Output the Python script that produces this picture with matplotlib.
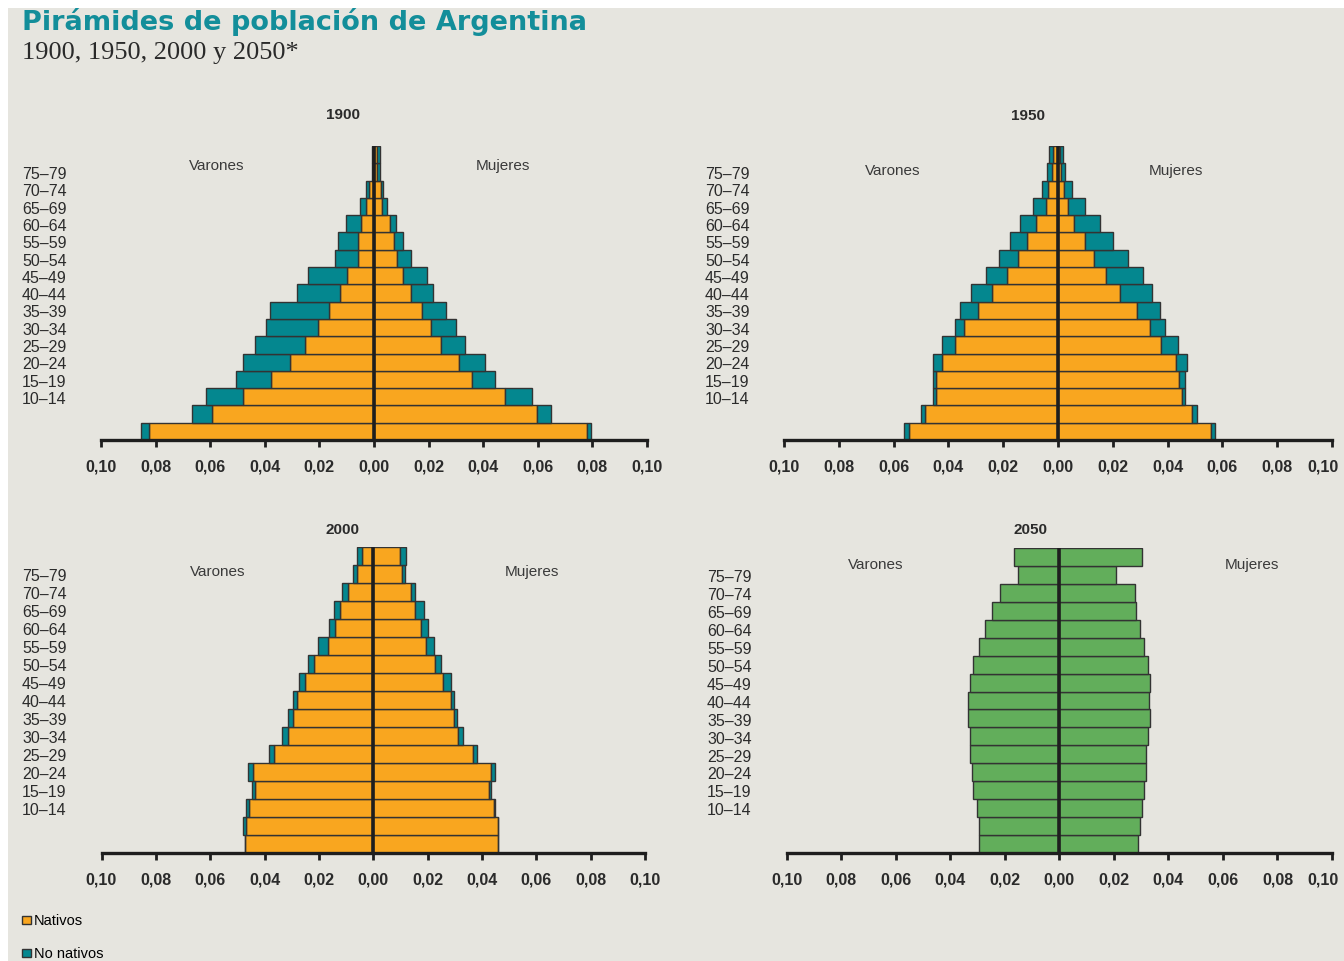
import matplotlib.pyplot as plt
from matplotlib.patches import Patch, Rectangle
from matplotlib.transforms import blended_transform_factory, ScaledTranslation
import numpy as np

# grupos de edad, de abajo (0-4) hacia arriba (80+)
grupos = ["0–4", "5–9", "10–14", "15–19", "20–24", "25–29", "30–34", "35–39",
          "40–44", "45–49", "50–54", "55–59", "60–64", "65–69", "70–74", "75–79", "80+"]
etiquetas = ["10–14", "15–19", "20–24", "25–29", "30–34", "35–39", "40–44",
             "45–49", "50–54", "55–59", "60–64", "65–69", "70–74", "75–79"]

# 1900
v1900_nat = [0.0824, 0.0592, 0.0479, 0.0376, 0.0308, 0.0254, 0.0205, 0.0165, 0.0125,
             0.0098, 0.0057, 0.0057, 0.0049, 0.0031, 0.0018, 0.0004, 0.0004]
v1900_nonat = [0.0031, 0.0076, 0.0135, 0.0128, 0.0171, 0.0183, 0.0192, 0.0217, 0.0156,
               0.0143, 0.0087, 0.0075, 0.0055, 0.0020, 0.0013, 0.0005, 0.0005]
m1900_nat = [0.0781, 0.0596, 0.0480, 0.0358, 0.0311, 0.0244, 0.0210, 0.0175, 0.0134,
             0.0107, 0.0085, 0.0073, 0.0059, 0.0031, 0.0025, 0.0012, 0.0012]
m1900_nonat = [0.0015, 0.0051, 0.0098, 0.0084, 0.0096, 0.0088, 0.0089, 0.0090, 0.0082,
               0.0088, 0.0049, 0.0034, 0.0023, 0.0015, 0.0009, 0.0010, 0.0010]

# 1950
v1950_nat = [0.0545, 0.0484, 0.0444, 0.0444, 0.0423, 0.0375, 0.0342, 0.0293, 0.0241,
             0.0186, 0.0146, 0.0113, 0.0079, 0.0044, 0.0036, 0.0022, 0.0019]
v1950_nonat = [0.0016, 0.0016, 0.0013, 0.0013, 0.0034, 0.0048, 0.0035, 0.0063, 0.0075,
               0.0076, 0.0071, 0.0061, 0.0061, 0.0048, 0.0022, 0.0018, 0.0015]
m1950_nat = [0.0560, 0.0490, 0.0451, 0.0442, 0.0429, 0.0377, 0.0336, 0.0290, 0.0226,
             0.0174, 0.0131, 0.0099, 0.0058, 0.0038, 0.0022, 0.0010, 0.0008]
m1950_nonat = [0.0013, 0.0016, 0.0011, 0.0021, 0.0043, 0.0061, 0.0054, 0.0081, 0.0116,
               0.0136, 0.0124, 0.0102, 0.0095, 0.0061, 0.0030, 0.0014, 0.0012]

# 2000
v2000_nat = [0.0471, 0.0470, 0.0457, 0.0436, 0.0443, 0.0367, 0.0313, 0.0294, 0.0279,
             0.0251, 0.0217, 0.0168, 0.0141, 0.0122, 0.0092, 0.0058, 0.0043]
v2000_nonat = [0.0001, 0.0010, 0.0010, 0.0009, 0.0017, 0.0016, 0.0024, 0.0019, 0.0015,
               0.0022, 0.0023, 0.0037, 0.0021, 0.0022, 0.0023, 0.0016, 0.0017]
m2000_nat = [0.0459, 0.0458, 0.0445, 0.0427, 0.0433, 0.0366, 0.0313, 0.0297, 0.0285,
             0.0258, 0.0229, 0.0194, 0.0174, 0.0153, 0.0139, 0.0104, 0.0098]
m2000_nonat = [0.0001, 0.0002, 0.0003, 0.0006, 0.0015, 0.0014, 0.0018, 0.0013, 0.0012,
               0.0027, 0.0020, 0.0029, 0.0026, 0.0035, 0.0014, 0.0013, 0.0022]

# 2050 (proyeccion, total)
v2050 = [0.0294, 0.0294, 0.0300, 0.0315, 0.0321, 0.0328, 0.0328, 0.0334, 0.0334,
         0.0328, 0.0315, 0.0294, 0.0273, 0.0247, 0.0218, 0.0151, 0.0165]
m2050 = [0.0289, 0.0295, 0.0304, 0.0310, 0.0318, 0.0318, 0.0324, 0.0332, 0.0330,
         0.0332, 0.0324, 0.0310, 0.0295, 0.0283, 0.0277, 0.0208, 0.0304]

NARANJA = "#F9A61F"
TEAL = "#04878F"
VERDE = "#62AE5B"
BORDE = "#333333"
FONDO = "#E6E5DF"
TXT = "#2b2b2b"

W, H = 1344, 961
fig = plt.figure(figsize=(W / 100, H / 100), dpi=100, facecolor="white")
fig.add_artist(Rectangle((8 / W, 0), 1, 1 - 8 / H, transform=fig.transFigure,
                         facecolor=FONDO, edgecolor="none", zorder=-5))


def fx(x):
    return x / W


def fy(y):
    return 1 - y / H


def piramide(ax, varones, mujeres, colores, anio, lbl_x, pos, borde_der=False):
    y = np.arange(len(grupos))
    izq = np.zeros(len(grupos))
    der = np.zeros(len(grupos))
    for v, m, c in zip(varones, mujeres, colores):
        v = np.array(v)
        m = np.array(m)
        ax.barh(y, -v, left=-izq, height=1, color=c, edgecolor=BORDE, lw=1)
        ax.barh(y, m, left=der, height=1, color=c, edgecolor=BORDE, lw=1)
        izq += v
        der += m
    ax.axvline(0, color="#1e1e1e", lw=2.6, zorder=5)
    ax.set_xlim(-0.1, 0.1)
    ax.set_ylim(-0.5, len(grupos) - 0.5)
    ax.set_facecolor("none")
    for s in ["left", "right", "top"]:
        ax.spines[s].set_visible(False)
    ax.spines["bottom"].set_linewidth(2.4)
    ax.spines["bottom"].set_color("#1e1e1e")
    ticks = np.linspace(-0.1, 0.1, 11)
    ax.set_xticks(ticks)
    ax.set_xticklabels([("%.2f" % abs(t)).replace(".", ",") for t in ticks],
                       fontsize=11.5, fontweight="bold", color=TXT, family="Liberation Sans")
    ax.tick_params(axis="x", direction="out", length=5, width=2, color="#1e1e1e", pad=9)
    if borde_der:
        ultimo = ax.get_xticklabels()[-1]
        ultimo.set_transform(ultimo.get_transform() +
                             ScaledTranslation(-9 / 100, 0, fig.dpi_scale_trans))
    ax.set_yticks([])
    tr = blended_transform_factory(fig.transFigure, ax.transData)
    for e in etiquetas:
        ax.text(fx(lbl_x), grupos.index(e) - 0.15, e, transform=tr, ha="left", va="center",
                fontsize=11.5, color=TXT, family="Liberation Sans")
    # titulos del panel
    fig.text(fx(pos[0]), fy(pos[1]), anio, ha="center", va="center", fontsize=11,
             fontweight="bold", color=TXT, family="Liberation Sans")
    fig.text(fx(pos[2]), fy(pos[3]), "Varones", ha="center", va="center", fontsize=11,
             color="#3a3a3a", family="Liberation Sans")
    fig.text(fx(pos[4]), fy(pos[3]), "Mujeres", ha="center", va="center", fontsize=11,
             color="#3a3a3a", family="Liberation Sans")


ax1 = fig.add_axes([fx(101), fy(440), (647 - 101) / W, (440 - 146) / H])
piramide(ax1, [v1900_nat, v1900_nonat], [m1900_nat, m1900_nonat], [NARANJA, TEAL],
         "1900", 22, (343, 115, 217, 166, 503))

ax2 = fig.add_axes([fx(784), fy(440), (1332 - 784) / W, (440 - 146) / H])
piramide(ax2, [v1950_nat, v1950_nonat], [m1950_nat, m1950_nonat], [NARANJA, TEAL],
         "1950", 705, (1028, 116, 893, 171, 1176), borde_der=True)

ax3 = fig.add_axes([fx(101.5), fy(853), (645 - 101.5) / W, (853 - 547) / H])
piramide(ax3, [v2000_nat, v2000_nonat], [m2000_nat, m2000_nonat], [NARANJA, TEAL],
         "2000", 22, (343, 530, 218, 572, 532))

ax4 = fig.add_axes([fx(786.5), fy(853), (1332 - 786.5) / W, (853 - 548) / H])
piramide(ax4, [v2050], [m2050], [VERDE],
         "2050", 707, (1030, 530, 876, 565, 1252), borde_der=True)

fig.text(fx(22), fy(22), "Pirámides de población de Argentina", ha="left", va="center",
         fontsize=19.5, fontweight="bold", color="#138E9A", family="DejaVu Sans")
fig.text(fx(22), fy(53), "1900, 1950, 2000 y 2050*", ha="left", va="center",
         fontsize=19, color="#2a2a2a", family="Liberation Serif")

handles = [Patch(facecolor=NARANJA, edgecolor=BORDE, lw=1, label="Nativos"),
           Patch(facecolor=TEAL, edgecolor=BORDE, lw=1, label="No nativos")]
fig.legend(handles=handles, loc="upper left", bbox_to_anchor=(fx(22), fy(914)),
           frameon=False, labelspacing=1.3, handlelength=0.6,
           handleheight=0.5, handletextpad=0.2, borderpad=0, borderaxespad=0,
           prop={"family": "Liberation Sans", "size": 10.5})

fig.savefig("out.png", dpi=100, facecolor="white")
